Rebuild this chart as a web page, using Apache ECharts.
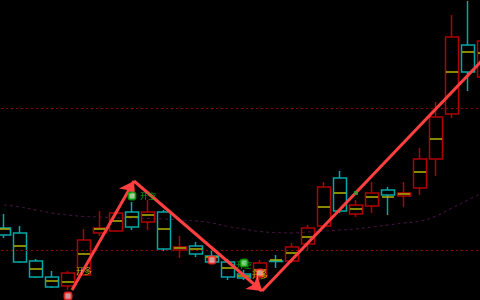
<!DOCTYPE html>
<html>
<head>
<meta charset="utf-8">
<script src="https://cdn.jsdelivr.net/npm/echarts@6/dist/echarts.min.js"></script>
<style>
html,body{margin:0;padding:0;background:#000;overflow:hidden;width:480px;height:300px;}
#c{position:absolute;left:-4px;top:0;width:496px;height:300px;}
</style>
</head>
<body>
<div id="c"></div>
<script>
// candle index labels
var categories = [];
for (var k = 0; k < 31; k++) categories.push('K' + (k + 1));

// [open, close, low, high]
var candles = [
  [72, 65, 62, 86],
  [67, 38, 37, 74],
  [39, 23, 22, 41],
  [23, 13, 12, 29],
  [14, 27, 10, 29],
  [25, 60, 24, 71],
  [67, 72, 64, 89],
  [69, 87, 68, 89],
  [88, 73, 70, 98],
  [78, 88, 70, 100],
  [88, 51, 49, 90],
  [50, 53, 42, 64],
  [54, 46, 43, 58],
  [44, 38, 37, 50],
  [38, 23, 20, 41],
  [26, 22, 20, 30],
  [23, 37, 20, 40],
  [39, 38.5, 32, 45],
  [39, 53, 37, 57],
  [56, 72, 50, 75],
  [74, 113, 72, 118],
  [122, 89, 87, 129],
  [86, 95, 83, 100],
  [94, 107, 87, 118],
  [110, 105, 85, 113],
  [104, 107, 93, 118],
  [112, 141, 105, 152],
  [141, 183, 124, 198],
  [186, 263, 182, 285],
  [255, 228, 209, 299],
  [223, 259, 215, 270]
];

// average-price tick inside each candle
var avgLine = [71, 54, 31, 19, 18, 46, 71, 79, 83, 85, 71, 52, 51, 43, 32, 24, 30, 40, 47, 63, 93, 107, 91, 103, 103, 106, 128, 161, 228, 248, 247];

// moving average
var ma = [95, 93, 90, 87, 85, 83.5, 83, 82, 82, 81.5, 81, 80, 79, 77, 73.5, 71, 68.5, 67.5, 67, 68, 69, 70, 71, 73, 75, 77, 79, 84, 92, 100, 108];

// horizontal reference levels
var levels = [50, 192];

// zigzag arrows [x index, value]
var arrowUp1 = [[4.25, 10], [8.125, 119]];
var arrowDown = [[8.125, 119], [16.125, 9]];
var lineUp2 = [[16.125, 9], [30.5, 250]];

// signal markers
var redDots = [[4, 4], [13, 40], [16, 27]];
var greenDots = [[8, 104], [15, 37]];
var smallGreen = [[22, 107]];
var longLabels = [[5, 29, '开多'], [16, 25.5, '开多']];
var shortLabels = [[9, 104, '开空'], [15, 35, '开空']];

var chart = echarts.init(document.getElementById('c'), null, {renderer: 'canvas'});

var option = {
  backgroundColor: '#000000',
  animation: false,
  grid: {left: 0, right: 0, top: 0, bottom: 0},
  xAxis: [
    {type: 'category', data: categories, boundaryGap: true, show: false},
    {type: 'value', min: -0.5, max: 30.5, show: false}
  ],
  yAxis: [{type: 'value', min: 0, max: 300, show: false, splitLine: {show: false}}],
  series: [
    {
      type: 'line',
      data: ma,
      xAxisIndex: 0,
      symbol: 'none',
      smooth: true,
      lineStyle: {color: '#4a1446', width: 1, type: [3, 3]},
      z: 1
    },
    {
      type: 'candlestick',
      data: candles,
      xAxisIndex: 0,
      barWidth: 14,
      itemStyle: {
        color: 'transparent',
        color0: 'transparent',
        borderColor: '#b00000',
        borderColor0: '#00a8a8',
        borderWidth: 1.5
      },
      markLine: {
        silent: true,
        symbol: 'none',
        label: {show: false},
        lineStyle: {color: '#900000', type: [2, 3], width: 1},
        data: levels.map(function (v) { return {yAxis: v}; })
      },
      z: 2
    },
    {
      type: 'custom',
      xAxisIndex: 0,
      data: avgLine.map(function (v, i) { return [i, v]; }),
      renderItem: function (params, api) {
        var p = api.coord([api.value(0), api.value(1)]);
        return {
          type: 'line',
          shape: {x1: p[0] - 6, y1: p[1], x2: p[0] + 6, y2: p[1]},
          style: {stroke: '#b4b400', lineWidth: 1.5}
        };
      },
      z: 3
    },
    {
      type: 'lines',
      coordinateSystem: 'cartesian2d',
      xAxisIndex: 1,
      polyline: false,
      symbol: ['none', 'arrow'],
      symbolSize: [10, 14],
      lineStyle: {color: '#ff4040', width: 3, opacity: 1},
      data: [{coords: arrowUp1}, {coords: arrowDown}],
      z: 5
    },
    {
      type: 'lines',
      coordinateSystem: 'cartesian2d',
      xAxisIndex: 1,
      symbol: ['none', 'none'],
      lineStyle: {color: '#ff4040', width: 3, opacity: 1},
      data: [{coords: lineUp2}],
      z: 5
    },
    {
      type: 'scatter',
      xAxisIndex: 1,
      data: redDots,
      symbol: 'roundRect',
      symbolSize: 7,
      itemStyle: {color: '#ffc0c0', borderColor: '#ff2020', borderWidth: 2},
      z: 6
    },
    {
      type: 'scatter',
      xAxisIndex: 1,
      data: greenDots,
      symbol: 'roundRect',
      symbolSize: 7,
      itemStyle: {color: '#c0ffc0', borderColor: '#00a000', borderWidth: 2},
      z: 6
    },
    {
      type: 'scatter',
      xAxisIndex: 1,
      data: smallGreen,
      symbol: 'rect',
      symbolSize: 4,
      itemStyle: {color: '#30a030'},
      z: 6
    },
    {
      type: 'scatter',
      xAxisIndex: 1,
      data: longLabels,
      symbolSize: 0,
      label: {
        show: true, position: 'inside',
        formatter: function (p) { return p.value[2]; },
        color: '#d8d800', fontSize: 8, fontFamily: 'Noto Sans CJK SC'
      },
      z: 7
    },
    {
      type: 'scatter',
      xAxisIndex: 1,
      data: shortLabels,
      symbolSize: 0,
      label: {
        show: true, position: 'inside',
        formatter: function (p) { return p.value[2]; },
        color: '#00d000', fontSize: 8, fontFamily: 'Noto Sans CJK SC'
      },
      z: 7
    }
  ]
};
chart.setOption(option);
</script>
</body>
</html>
